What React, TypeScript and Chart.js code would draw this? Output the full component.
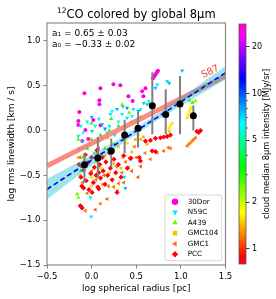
import React, { useEffect, useRef } from 'react';
import { Chart, registerables } from 'chart.js';
import { drawPoint } from 'chart.js/helpers';

Chart.register(...registerables);

const FONT = 'DejaVu Sans';

const X_TICKS = [-0.5, 0, 0.5, 1.0, 1.5];
const Y_TICKS = [-1.5, -1.0, -0.5, 0.0, 0.5, 1.0];
const CB_TICKS = [1, 2, 5, 10, 20];
const CB_MINOR = [3, 4, 6, 7, 8, 9];
const CB_MIN = 0.8;
const CB_MAX = 28;

const TITLE_SUP = '12';
const TITLE_MAIN = 'CO colored by global 8μm';
const X_LABEL = 'log spherical radius [pc]';
const Y_LABEL = 'log rms linewidth [km / s]';
const CB_LABEL = 'cloud median 8μm intensity [MJy/sr]';
const FIT_TEXT = ['a₁ = 0.65 ± 0.03', 'a₀ = −0.33 ± 0.02'];

const SERIES_NAMES = ['30Dor', 'N59C', 'A439', 'GMC104', 'GMC1', 'PCC'];
const SERIES_STYLES = ['circle', 'triangle', 'triangle', 'rect', 'triangle', 'rectRot'];
const SERIES_ROT = [0, 180, 0, 0, 270, 0];
const SERIES_R = [2, 2.4, 2.4, 2, 2.4, 2.6];
const LEGEND_I = [26, 6.8, 2.6, 1.45, 1.2, 0.85];

// [log R, log sigma, 8um intensity]
const DOR30 = [
  [-0.081, 0.417, 26], [0.098, 0.472, 27], [0.244, 0.517, 25], [0.322, 0.506, 27], [0.087, 0.339, 26],
  [0.087, 0.294, 24], [-0.138, 0.206, 27], [-0.149, 0.106, 25], [-0.149, 0.061, 27], [0.412, 0.383, 26],
  [0.019, 0.117, 24], [-0.037, -0.094, 26], [0.58, 0.383, 27], [0.603, 0.472, 26], [0.566, 0.439, 25],
  [0.687, 0.583, 27], [0.698, 0.6, 27], [0.709, 0.617, 26], [0.72, 0.633, 27], [0.732, 0.65, 26],
  [0.743, 0.667, 27], [-0.07, 0.006, 25], [-0.104, -0.117, 26], [0.46, 0.33, 24], [0.1, 0.06, 23],
];
const N59C = [
  [-0.149, -0.061, 6.8], [-0.093, -0.024, 6.4], [0.005, -0.006, 7.2], [0.042, 0.05, 6], [0.117, 0.072, 7.6],
  [0.21, 0.183, 6.8], [0.229, 0.217, 6.4], [0.285, 0.239, 7.6], [0.341, 0.183, 6.8], [0.397, 0.253, 8.5],
  [0.468, 0.239, 6.8], [0.524, 0.217, 7.6], [0.453, 0.161, 6.4], [-0.051, -0.172, 6.8], [-0.107, -0.117, 7.6],
  [0.117, -0.08, 6.8], [0.173, -0.024, 6.4], [1.014, 0.669, 7.6], [0.846, 0.55, 6.8], [0.715, 0.476, 7.6],
  [0.734, 0.513, 6.8], [0.584, 0.309, 7.2], [0.622, 0.291, 7.6], [0.547, 0.236, 6.8], [0.64, 0.328, 6.4],
  [0.397, 0.142, 6.8], [-0.006, -0.961, 6.8], [0.378, -0.642, 7.6], [-0.014, -0.747, 6.8], [0.367, -0.517, 6.8],
  [-0.12, 0.05, 6], [-0.05, 0.1, 6.8], [0.0, 0.15, 7.6], [0.08, 0.13, 6.8], [0.15, 0.02, 8.5],
  [0.2, 0.05, 6.8], [0.3, 0.1, 6.4], [0.35, 0.27, 7.6], [-0.14, -0.2, 6.8], [0.03, -0.25, 6],
  [0.87, 0.53, 7.6], [0.26, -0.05, 6.8], [0.5, 0.1, 6.4],
];
const A439 = [
  [1.096, 0.336, 2.8], [1.163, 0.328, 2.6], [1.13, 0.31, 2.9], [-0.163, -0.709, 2.7], [-0.149, -0.747, 2.5],
  [-0.12, -0.45, 3.0], [-0.1, -0.3, 2.6], [-0.05, -0.2, 3.2], [0.0, -0.1, 2.8], [0.05, -0.35, 2.5],
  [0.1, -0.05, 3.0], [0.15, -0.2, 2.7], [0.2, 0.0, 2.9], [0.25, -0.15, 2.6], [0.3, 0.05, 3.1],
  [0.35, -0.1, 2.8], [0.45, 0.1, 2.6], [0.5, 0.0, 2.9], [-0.15, -0.1, 2.7], [0.0, 0.08, 3.0],
  [0.55, 0.15, 2.8], [0.42, 0.2, 2.6], [0.65, 0.3, 2.9], [0.341, 0.291, 2.7], [0.22, 0.13, 3.0],
  [-0.08, -0.55, 2.6], [0.12, -0.45, 2.8],
];
const GMC104 = [
  [1.07, 0.142, 1.6], [1.081, 0.172, 1.6], [1.092, 0.206, 1.65], [1.103, 0.233, 1.6], [1.115, 0.261, 1.65],
  [0.864, 0.024, 1.6], [0.883, 0.05, 1.65], [0.9, 0.08, 1.6], [0.87, -0.01, 1.5], [0.52, -0.05, 1.4],
  [0.55, -0.1, 1.45], [0.58, -0.07, 1.4], [0.6, -0.12, 1.5], [0.62, -0.15, 1.4], [0.49, -0.1, 1.45],
  [-0.1, -0.2, 1.5], [-0.05, -0.35, 1.4], [0.0, -0.52, 1.6], [0.05, -0.25, 1.45], [0.1, -0.42, 1.5],
  [0.15, -0.28, 1.4], [0.2, -0.47, 1.55], [0.25, -0.37, 1.45], [0.3, -0.18, 1.5], [0.35, -0.3, 1.4],
  [0.4, -0.14, 1.55], [0.45, -0.24, 1.45], [-0.13, -0.5, 1.5], [0.08, -0.12, 1.6], [0.29, -0.67, 1.4],
  [0.0, -0.62, 1.5], [-0.15, -0.3, 1.45], [0.18, -0.08, 1.5], [0.12, -0.6, 1.4], [-0.02, -0.15, 1.55],
  [0.33, -0.42, 1.45],
];
const GMC1 = [
  [1.07, -0.172, 1.2], [1.088, -0.153, 1.2], [1.107, -0.136, 1.22], [1.126, -0.117, 1.2], [1.144, -0.098, 1.22],
  [1.163, -0.08, 1.2], [0.808, -0.228, 1.15], [0.883, -0.198, 1.2], [0.734, -0.247, 1.15], [0.659, -0.32, 1.2],
  [0.41, -0.41, 1.15], [0.86, -0.19, 1.2], [-0.07, -0.894, 1.2], [0.042, -0.883, 1.15], [0.098, -0.817, 1.2],
  [0.173, -0.764, 1.15], [0.247, -0.628, 1.2], [0.303, -0.591, 1.2], [0.0, -0.45, 1.15], [0.05, -0.55, 1.2],
  [0.1, -0.28, 1.25], [0.14, -0.5, 1.15], [0.19, -0.62, 1.2], [0.28, -0.4, 1.15], [0.34, -0.47, 1.2],
  [0.38, -0.35, 1.2], [0.45, -0.45, 1.15], [0.5, -0.3, 1.2], [-0.1, -0.58, 1.15], [-0.05, -0.7, 1.2],
  [0.24, -0.22, 1.2], [0.55, -0.4, 1.15], [0.6, -0.25, 1.2], [0.36, -0.58, 1.15], [0.48, -0.18, 1.2],
  [0.52, -0.52, 1.15], [-0.13, -0.3, 1.2], [0.08, -0.2, 1.15],
];
const PCC = [
  [-0.14, -0.38, 0.85], [-0.12, -0.52, 0.9], [-0.11, -0.62, 0.85], [-0.09, -0.44, 0.88], [-0.07, -0.27, 0.9],
  [-0.06, -0.56, 0.85], [-0.04, -0.36, 0.88], [-0.03, -0.66, 0.85], [-0.01, -0.48, 0.9], [0.0, -0.3, 0.85],
  [0.02, -0.58, 0.88], [0.03, -0.41, 0.85], [0.05, -0.5, 0.9], [0.06, -0.22, 0.85], [0.07, -0.63, 0.88],
  [0.09, -0.38, 0.85], [0.1, -0.53, 0.9], [0.12, -0.3, 0.85], [0.13, -0.45, 0.88], [0.15, -0.6, 0.85],
  [0.16, -0.35, 0.9], [0.18, -0.5, 0.85], [0.2, -0.25, 0.88], [0.21, -0.42, 0.85], [0.23, -0.55, 0.9],
  [0.25, -0.32, 0.85], [0.27, -0.47, 0.88], [0.3, -0.38, 0.85], [0.33, -0.52, 0.9], [0.36, -0.28, 0.85],
  [0.4, -0.42, 0.88], [0.44, -0.31, 0.85], [-0.127, -0.839, 0.85], [-0.107, -0.864, 0.88], [-0.117, -0.85, 0.85],
  [-0.09, -0.64, 0.88], [0.08, -0.65, 0.85], [0.005, -0.69, 0.9], [0.285, -0.69, 0.85], [0.08, -0.47, 0.88],
  [0.603, -0.117, 0.85], [0.659, -0.109, 0.88], [0.715, -0.087, 0.85], [0.771, -0.08, 0.9], [0.808, -0.072, 0.85],
  [0.846, -0.065, 0.88], [0.883, -0.05, 0.85], [0.678, -0.228, 0.88], [0.715, -0.235, 0.85], [0.535, -0.302, 0.9],
  [0.547, -0.339, 0.85], [0.434, -0.31, 0.88], [1.18, -0.01, 0.85], [1.22, 0.0, 0.88], [1.2, -0.02, 0.85],
];
const SERIES_DATA = [DOR30, N59C, A439, GMC104, GMC1, PCC];

// binned medians with spread
const BIN_X = [-0.08, 0.07, 0.22, 0.37, 0.52, 0.68, 0.83, 0.99, 1.14];
const BIN_MED = [-0.382, -0.305, -0.227, -0.049, 0.025, 0.276, 0.18, 0.295, 0.165];
const BIN_LO = [-0.58, -0.53, -0.41, -0.25, -0.19, -0.04, -0.04, -0.04, 0.0];
const BIN_HI = [-0.25, -0.07, -0.09, 0.12, 0.21, 0.65, 0.46, 0.61, 0.28];

// S87 relation and fitted relation
const S87_X = [-0.5, 1.5];
const S87_Y = [-0.393, 0.607];
const S87_LABEL_X = 1.33;
const S87_LABEL_Y = 0.655;
const FIT_X = [-0.5, 1.5];
const FIT_Y = [-0.655, 0.645];
const BAND_X = [-0.5, -0.25, 0, 0.25, 0.5, 0.75, 1.0, 1.25, 1.5];
const BAND_LO = [-0.77, -0.578, -0.39, -0.208, -0.04, 0.123, 0.275, 0.423, 0.57];
const BAND_HI = [-0.54, -0.408, -0.27, -0.128, 0.03, 0.193, 0.365, 0.543, 0.72];

const GIST = [
  [0.0, 1, 0, 0.16], [0.03, 1, 0, 0], [0.215, 1, 1, 0], [0.4, 0, 1, 0],
  [0.586, 0, 1, 1], [0.77, 0, 0, 1], [0.954, 1, 0, 1], [1.0, 1, 0, 0.75],
];
function cmap(t: number): string {
  t = Math.max(0, Math.min(1, t));
  for (let i = 1; i < GIST.length; i++) {
    const a = GIST[i - 1], b = GIST[i];
    if (t <= b[0]) {
      const f = (t - a[0]) / (b[0] - a[0]);
      const c = [1, 2, 3].map(k => Math.round(255 * (a[k] + f * (b[k] - a[k]))));
      return `rgb(${c[0]},${c[1]},${c[2]})`;
    }
  }
  return 'rgb(255,0,191)';
}
function colorOf(v: number): string {
  const l0 = Math.log10(CB_MIN), l1 = Math.log10(CB_MAX);
  return cmap((Math.log10(v) - l0) / (l1 - l0));
}
const fmt = (v: number) => (v < 0 ? '−' : '') + Math.abs(v).toFixed(1);

function roundRectPath(ctx: CanvasRenderingContext2D, x: number, y: number, w: number, h: number, r: number) {
  ctx.beginPath();
  ctx.moveTo(x + r, y);
  ctx.arcTo(x + w, y, x + w, y + h, r);
  ctx.arcTo(x + w, y + h, x, y + h, r);
  ctx.arcTo(x, y + h, x, y, r);
  ctx.arcTo(x, y, x + w, y, r);
  ctx.closePath();
}

const decorPlugin = {
  id: 'decor',
  afterDraw(chart: any) {
    const { ctx, chartArea: a, scales } = chart;
    const xs = scales.x, ys = scales.y;
    ctx.save();
    ctx.strokeStyle = '#8a8a8a';
    ctx.lineWidth = 1.2;
    ctx.strokeRect(a.left, a.top, a.right - a.left, a.bottom - a.top);

    // S87 label
    const p1x = xs.getPixelForValue(S87_X[0]), p1y = ys.getPixelForValue(S87_Y[0]);
    const p2x = xs.getPixelForValue(S87_X[1]), p2y = ys.getPixelForValue(S87_Y[1]);
    ctx.save();
    ctx.translate(xs.getPixelForValue(S87_LABEL_X), ys.getPixelForValue(S87_LABEL_Y));
    ctx.rotate(Math.atan2(p2y - p1y, p2x - p1x));
    ctx.font = `9.5px ${FONT}`;
    ctx.fillStyle = '#f03c3c';
    ctx.textAlign = 'center';
    ctx.textBaseline = 'middle';
    ctx.fillText('S87', 0, 0);
    ctx.restore();

    // fit text
    ctx.font = `9px ${FONT}`;
    ctx.fillStyle = '#000';
    ctx.textAlign = 'left';
    ctx.textBaseline = 'middle';
    FIT_TEXT.forEach((t, i) => ctx.fillText(t, a.left + 5, a.top + 10.5 + i * 11));

    // title
    ctx.textBaseline = 'alphabetic';
    ctx.font = `7.5px ${FONT}`;
    const wSup = ctx.measureText(TITLE_SUP).width;
    ctx.font = `11.5px ${FONT}`;
    const wMain = ctx.measureText(TITLE_MAIN).width;
    const cx = (a.left + a.right) / 2;
    const x0 = cx - (wSup + wMain) / 2;
    ctx.font = `7.5px ${FONT}`;
    ctx.fillText(TITLE_SUP, x0, 13);
    ctx.font = `11.5px ${FONT}`;
    ctx.fillText(TITLE_MAIN, x0 + wSup, 18);

    // legend
    const bw = 56.7, bh = 65.7;
    const bx = a.right - 3.8 - bw, by = a.bottom - 4.3 - bh;
    roundRectPath(ctx, bx, by, bw, bh, 2);
    ctx.fillStyle = 'rgba(255,255,255,0.8)';
    ctx.fill();
    ctx.strokeStyle = '#cccccc';
    ctx.lineWidth = 0.8;
    ctx.stroke();
    ctx.textBaseline = 'middle';
    SERIES_NAMES.forEach((n, i) => {
      const cy = by + 6.7 + i * 10.5;
      ctx.fillStyle = colorOf(LEGEND_I[i]);
      drawPoint(ctx, { pointStyle: SERIES_STYLES[i], rotation: SERIES_ROT[i], radius: 3.2, borderWidth: 0 } as any, bx + 10, cy);
      ctx.fillStyle = '#000';
      ctx.font = `7.2px ${FONT}`;
      ctx.fillText(n, bx + 22.7, cy);
    });
    ctx.restore();
  },
};

const cbPlugin = {
  id: 'cbar',
  afterDraw(chart: any) {
    const { ctx, chartArea: a } = chart;
    const s = chart.scales.y;
    ctx.save();
    for (let py = Math.floor(a.top); py < Math.ceil(a.bottom); py++) {
      const v = s.getValueForPixel(py + 0.5);
      ctx.fillStyle = colorOf(v);
      ctx.fillRect(a.left, py, a.right - a.left, 1);
    }
    ctx.strokeStyle = '#555';
    ctx.lineWidth = 0.8;
    ctx.strokeRect(a.left, a.top, a.right - a.left, a.bottom - a.top);
    ctx.strokeStyle = '#333';
    ctx.lineWidth = 0.7;
    CB_MINOR.forEach(v => {
      const y = s.getPixelForValue(v);
      ctx.beginPath();
      ctx.moveTo(a.right, y);
      ctx.lineTo(a.right + 2, y);
      ctx.stroke();
    });
    ctx.translate(a.right + 21, (a.top + a.bottom) / 2);
    ctx.rotate(-Math.PI / 2);
    ctx.font = `8.3px ${FONT}`;
    ctx.fillStyle = '#000';
    ctx.textAlign = 'center';
    ctx.textBaseline = 'middle';
    ctx.fillText(CB_LABEL, 0, 0);
    ctx.restore();
  },
};

export default function App() {
  const ref1 = useRef<HTMLCanvasElement>(null);
  const ref2 = useRef<HTMLCanvasElement>(null);

  useEffect(() => {
    const tickFont = { family: FONT, size: 8.5 };
    const labelFont = { family: FONT, size: 9 };

    const scatterSets = SERIES_DATA.map((pts, i) => ({
      type: 'scatter',
      label: SERIES_NAMES[i],
      data: pts.map(p => ({ x: p[0], y: p[1] })),
      pointStyle: SERIES_STYLES[i],
      pointRotation: SERIES_ROT[i],
      pointRadius: SERIES_R[i],
      pointBackgroundColor: pts.map(p => colorOf(p[2])),
      pointBorderColor: pts.map(p => colorOf(p[2])),
      pointBorderWidth: 0,
      order: 6 + (SERIES_DATA.length - 1 - i),
    }));

    const errData: any[] = [];
    BIN_X.forEach((x, i) => {
      errData.push({ x, y: BIN_LO[i] }, { x, y: BIN_HI[i] }, { x, y: null });
    });

    const datasets: any[] = [
      {
        type: 'scatter', label: 'median', order: 0,
        data: BIN_X.map((x, i) => ({ x, y: BIN_MED[i] })),
        pointRadius: 3.5, pointBackgroundColor: '#000', pointBorderColor: '#000', pointBorderWidth: 0,
      },
      {
        type: 'line', label: 'spread', order: 1, data: errData, spanGaps: false,
        borderColor: '#808080', borderWidth: 2, pointRadius: 0, fill: false,
      },
      {
        type: 'line', label: 'fit', order: 2,
        data: FIT_X.map((x, i) => ({ x, y: FIT_Y[i] })),
        borderColor: '#0000ff', borderWidth: 1.6, borderDash: [5, 3], pointRadius: 0, fill: false,
      },
      {
        type: 'line', label: 'bandLo', order: 4,
        data: BAND_X.map((x, i) => ({ x, y: BAND_LO[i] })),
        borderWidth: 0, borderColor: 'rgba(0,0,0,0)', pointRadius: 0, tension: 0.4, fill: false,
      },
      {
        type: 'line', label: 'bandHi', order: 3,
        data: BAND_X.map((x, i) => ({ x, y: BAND_HI[i] })),
        borderWidth: 0, borderColor: 'rgba(0,0,0,0)', pointRadius: 0, tension: 0.4,
        fill: { target: 3 }, backgroundColor: 'rgba(0,190,200,0.38)',
      },
      {
        type: 'line', label: 'S87', order: 5,
        data: S87_X.map((x, i) => ({ x, y: S87_Y[i] })),
        borderColor: 'rgba(250,120,110,0.85)', borderWidth: 5, pointRadius: 0, fill: false,
      },
      ...scatterSets,
    ];

    const c1 = new Chart(ref1.current as HTMLCanvasElement, {
      type: 'scatter',
      data: { datasets },
      options: {
        animation: false,
        responsive: false,
        devicePixelRatio: 1,
        layout: { padding: { top: 23, right: 50.5, left: 0, bottom: 0 } },
        plugins: { legend: { display: false }, tooltip: { enabled: false } },
        scales: {
          x: {
            type: 'linear', min: -0.5, max: 1.5,
            afterBuildTicks: (s: any) => { s.ticks = X_TICKS.map(v => ({ value: v })); },
            afterFit: (s: any) => { s.height = 34; },
            ticks: { font: tickFont, color: '#000', padding: 3, maxRotation: 0, autoSkip: false, callback: (v: any) => fmt(Number(v)) },
            grid: { display: true, drawOnChartArea: false, drawTicks: true, tickLength: 3.5, color: '#808080' },
            border: { display: false },
            title: { display: true, text: X_LABEL, font: labelFont, color: '#000', padding: { top: 0, bottom: 5 } },
          },
          y: {
            type: 'linear', min: -1.5, max: 1.2,
            afterBuildTicks: (s: any) => { s.ticks = Y_TICKS.map(v => ({ value: v })); },
            afterFit: (s: any) => { s.width = 47; },
            ticks: { font: tickFont, color: '#000', padding: 3, autoSkip: false, callback: (v: any) => fmt(Number(v)) },
            grid: { display: true, drawOnChartArea: false, drawTicks: true, tickLength: 3.5, color: '#808080' },
            border: { display: false },
            title: { display: true, text: Y_LABEL, font: labelFont, color: '#000', padding: { top: 6.5, bottom: 0 } },
          },
        },
      } as any,
      plugins: [decorPlugin],
    } as any);

    const c2 = new Chart(ref2.current as HTMLCanvasElement, {
      type: 'scatter',
      data: { datasets: [] },
      options: {
        animation: false,
        responsive: false,
        devicePixelRatio: 1,
        layout: { padding: { top: 24, right: 0, left: 9, bottom: 35 } },
        plugins: { legend: { display: false }, tooltip: { enabled: false } },
        scales: {
          x: { display: false, type: 'linear', min: 0, max: 1 },
          y: {
            type: 'logarithmic', position: 'right', min: CB_MIN, max: CB_MAX,
            afterBuildTicks: (s: any) => { s.ticks = CB_TICKS.map(v => ({ value: v })); },
            afterFit: (s: any) => { s.width = 30; },
            ticks: { font: { family: FONT, size: 8 }, color: '#000', padding: 2.5, autoSkip: false, callback: (v: any) => String(v) },
            grid: { display: true, drawOnChartArea: false, drawTicks: true, tickLength: 3.5, color: '#333' },
            border: { display: false },
          },
        },
      } as any,
      plugins: [cbPlugin],
    } as any);

    return () => { c1.destroy(); c2.destroy(); };
  }, []);

  return (
    <div style={{ position: 'fixed', left: 0, top: 0, width: 276, height: 299, background: '#fff' }}>
      <canvas ref={ref1} width={276} height={299} style={{ position: 'absolute', left: 0, top: 0 }} />
      <canvas ref={ref2} width={46} height={299} style={{ position: 'absolute', left: 230, top: 0 }} />
    </div>
  );
}
